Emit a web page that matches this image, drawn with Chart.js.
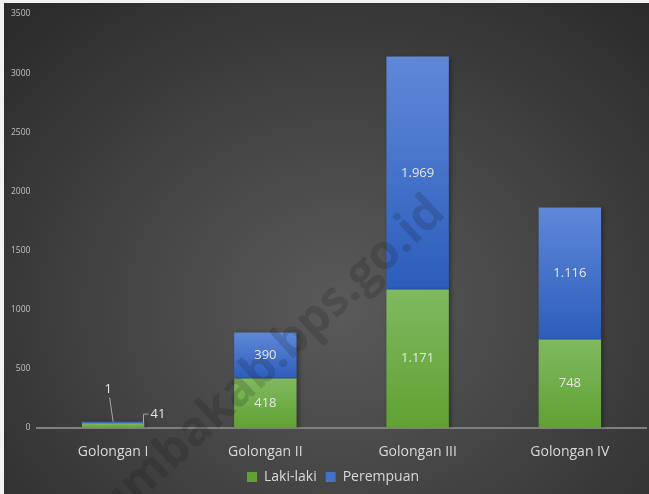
<!DOCTYPE html>
<html>
<head>
<meta charset="utf-8">
<script src="https://cdn.jsdelivr.net/npm/chart.js@4.4.1/dist/chart.umd.min.js"></script>
<style>
  html, body { margin: 0; padding: 0; background: #f2f2f2; }
  #wrap {
    position: absolute; left: 4px; top: 3px; width: 645px; height: 491px;
    background: radial-gradient(ellipse 70% 80% at 52% 62%, #5a5a5a 0%, #464646 45%, #2c2c2c 100%);
  }
</style>
</head>
<body>
<div id="wrap"><canvas id="chart"></canvas></div>
<script>
const categories = ["Golongan I", "Golongan II", "Golongan III", "Golongan IV"];
const lakiLaki   = [41, 418, 1171, 748];
const perempuan  = [1, 390, 1969, 1116];
const yMax = 3500;
const yStep = 500;
const watermarkText = "umbakab.bps.go.id";

const FONT = '"Open Sans", "Noto Sans", sans-serif';
const fmtID = v => String(v).replace(/\B(?=(\d{3})+(?!\d))/g, ".");

// vertical gradient per stacked segment, like the office chart fill
function segGradient(top, bottom, flat) {
  return (c) => {
    const chart = c.chart;
    const y = chart.scales && chart.scales.y;
    if (c.type !== "data" || !chart.chartArea || !y) return flat;
    const sets = chart.data.datasets;
    let lo = 0;
    for (let d = 0; d < c.datasetIndex; d++) lo += sets[d].data[c.dataIndex];
    const hi = lo + sets[c.datasetIndex].data[c.dataIndex];
    const y0 = y.getPixelForValue(hi), y1 = y.getPixelForValue(lo);
    if (!isFinite(y0) || !isFinite(y1) || Math.abs(y1 - y0) < 1) return flat;
    const g = chart.ctx.createLinearGradient(0, y0, 0, y1);
    g.addColorStop(0, top);
    g.addColorStop(1, bottom);
    return g;
  };
}

const shadowPlugin = {
  id: "barShadow",
  beforeDatasetsDraw(chart) {
    const ctx = chart.ctx;
    ctx.save();
    ctx.shadowColor = "rgba(0,0,0,0.35)";
    ctx.shadowBlur = 4;
    ctx.shadowOffsetX = 2;
    ctx.shadowOffsetY = 1;
  },
  afterDatasetsDraw(chart) {
    chart.ctx.restore();
  }
};

const watermarkPlugin = {
  id: "watermark",
  afterDatasetsDraw(chart) {
    const ctx = chart.ctx;
    ctx.save();
    ctx.translate(443, 212);
    ctx.rotate(-43 * Math.PI / 180);
    ctx.font = "bold 48px " + FONT;
    ctx.fillStyle = "rgba(15,15,15,0.17)";
    ctx.textAlign = "right";
    ctx.textBaseline = "alphabetic";
    ctx.fillText(watermarkText, 0, 0);
    ctx.restore();
  }
};

const labelPlugin = {
  id: "segLabels",
  afterDatasetsDraw(chart) {
    const ctx = chart.ctx;
    ctx.save();
    ctx.font = "13px " + FONT;
    ctx.fillStyle = "#e6e6e6";
    ctx.strokeStyle = "#a6a6a6";
    ctx.lineWidth = 1;
    chart.data.datasets.forEach((ds, di) => {
      const meta = chart.getDatasetMeta(di);
      meta.data.forEach((bar, i) => {
        const txt = fmtID(ds.data[i]);
        const h = bar.base - bar.y;
        if (h > 20) {
          ctx.textAlign = "center";
          ctx.textBaseline = "middle";
          ctx.fillText(txt, bar.x, (bar.y + bar.base) / 2);
        } else if (di === 0) {
          // leader to the right
          const rx = Math.round(bar.x + bar.width / 2) - 0.5;
          ctx.beginPath();
          ctx.moveTo(rx, bar.y);
          ctx.lineTo(rx, bar.y - 9);
          ctx.lineTo(rx + 5, bar.y - 9);
          ctx.stroke();
          ctx.textAlign = "left";
          ctx.textBaseline = "middle";
          ctx.fillText(txt, rx + 7, bar.y - 9);
        } else {
          // leader going up
          ctx.beginPath();
          ctx.moveTo(bar.x, bar.y);
          ctx.lineTo(bar.x - 3.5, bar.y - 24);
          ctx.stroke();
          ctx.textAlign = "center";
          ctx.textBaseline = "middle";
          ctx.fillText(txt, bar.x - 5, bar.y - 32);
        }
      });
    });
    ctx.restore();
  }
};

new Chart(document.getElementById("chart"), {
  type: "bar",
  data: {
    labels: categories,
    datasets: [
      {
        label: "Laki-laki",
        data: lakiLaki,
        backgroundColor: segGradient("#80b960", "#5fa232", "#6cae46"),
        borderWidth: 0
      },
      {
        label: "Perempuan",
        data: perempuan,
        backgroundColor: segGradient("#5f88d8", "#2c5dbb", "#4472c8"),
        borderWidth: 0,
        minBarLength: 1.5
      }
    ]
  },
  options: {
    responsive: true,
    maintainAspectRatio: false,
    animation: false,
    layout: { padding: { top: 11, right: 3, left: 16, bottom: 0 } },
    datasets: { bar: { categoryPercentage: 1, barPercentage: 0.41 } },
    plugins: {
      legend: {
        position: "bottom",
        labels: {
          font: { family: FONT, size: 14, lineHeight: 1 },
          color: "#d9d9d9",
          boxWidth: 10,
          boxHeight: 10,
          padding: 9
        }
      },
      tooltip: { enabled: false }
    },
    scales: {
      x: {
        stacked: true,
        grid: { display: false },
        border: { display: true, color: "#7f7f7f", width: 2 },
        ticks: { font: { family: FONT, size: 14 }, color: "#d9d9d9", padding: 8 },
        afterFit: (s) => { s.height = 33; }
      },
      y: {
        stacked: true,
        min: 0,
        max: yMax,
        grid: { display: false, drawTicks: false },
        border: { display: false },
        ticks: {
          stepSize: yStep,
          font: { family: FONT, size: 8.5 },
          color: "#c0c0c0",
          mirror: true,
          crossAlign: "far",
          padding: -26,
          callback: (v) => String(v)
        },
        afterFit: (s) => { s.width = 17; }
      }
    }
  },
  plugins: [shadowPlugin, watermarkPlugin, labelPlugin]
});
</script>
</body>
</html>
